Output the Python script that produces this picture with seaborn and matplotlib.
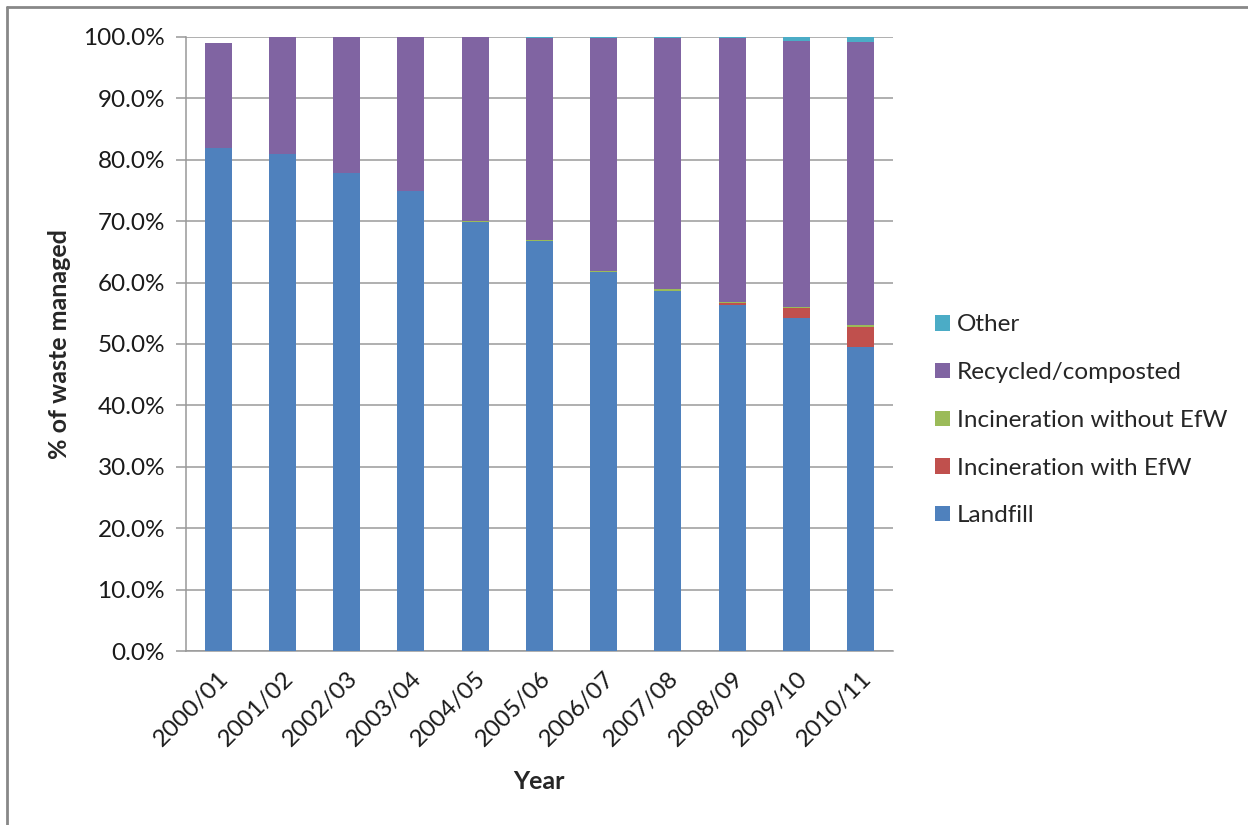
import matplotlib
matplotlib.use("Agg")
import matplotlib.pyplot as plt
from matplotlib.patches import Patch
from matplotlib.lines import Line2D
import seaborn as sns
import pandas as pd
import numpy as np

years = ["2000/01", "2001/02", "2002/03", "2003/04", "2004/05", "2005/06",
         "2006/07", "2007/08", "2008/09", "2009/10", "2010/11"]
landfill = [81.9, 80.9, 77.9, 74.9, 69.9, 66.8, 61.8, 58.7, 56.3, 54.3, 49.5]
incin_efw = [0.0, 0.0, 0.0, 0.0, 0.0, 0.0, 0.0, 0.0, 0.3, 1.5, 3.3]
incin_no_efw = [0.0, 0.0, 0.0, 0.0, 0.2, 0.2, 0.1, 0.2, 0.2, 0.3, 0.3]
recycled = [17.1, 19.1, 22.1, 25.1, 29.9, 32.8, 37.9, 40.9, 43.0, 43.3, 46.1]
other = [0.0, 0.0, 0.0, 0.0, 0.0, 0.2, 0.2, 0.2, 0.2, 0.6, 0.8]

series_names = ["Landfill", "Incineration with EfW", "Incineration without EfW",
                "Recycled/composted", "Other"]
series_values = [landfill, incin_efw, incin_no_efw, recycled, other]
colors = ["#4F81BD", "#C0504D", "#9BBB59", "#8064A2", "#4BACC6"]

sns.set_theme(style="white")
plt.rcParams["font.family"] = ["Lato", "DejaVu Sans"]

fig = plt.figure(figsize=(12.48, 8.25), dpi=100)
ax = fig.add_axes([0.149, 0.2109, 0.5665, 0.7443])

df = pd.DataFrame({"Year": years})
for name, vals in zip(series_names, series_values):
    df[name] = vals
# cumulative totals, drawn from the top layer down so each covers the one below
cum = df[series_names].cumsum(axis=1)
for name, col in reversed(list(zip(series_names, colors))):
    sns.barplot(x=df["Year"], y=cum[name], color=col, width=0.42,
                saturation=1, ax=ax, zorder=3, linewidth=0)

ax.set_ylim(0, 100)
ax.set_xlim(-0.5, len(years) - 0.5)
ax.set_yticks(np.arange(0, 101, 10))
ax.set_yticklabels([f"{v:.1f}%" for v in np.arange(0, 101, 10)], fontsize=17.5, color="#1a1a1a")
ax.yaxis.grid(True, color="#9a9a9a", linewidth=1.1, zorder=0)
ax.xaxis.grid(False)
ax.set_axisbelow(True)

ax.set_xticks(range(len(years)))
ax.set_xticklabels(years, rotation=45, ha="right", rotation_mode="anchor",
                   fontsize=17.5, color="#1a1a1a")
ax.set_xticks(np.arange(-0.5, len(years), 1.0), minor=True)
ax.tick_params(axis="x", which="major", length=0, pad=12)
ax.tick_params(axis="x", which="minor", length=7, color="#999999", width=1.1, direction="out")
ax.tick_params(axis="y", which="major", length=7, color="#999999", width=1.1, direction="out", left=True, pad=8)

for s in ["top", "right"]:
    ax.spines[s].set_visible(False)
for s in ["left", "bottom"]:
    ax.spines[s].set_color("#999999")
    ax.spines[s].set_linewidth(1.1)

ax.set_xlabel("Year", fontsize=18, fontweight="bold", labelpad=14)
ax.set_ylabel("% of waste managed", fontsize=18, fontweight="bold", labelpad=9)

handles = [Patch(facecolor=c, edgecolor="none", label=n)
           for n, c in zip(series_names, colors)][::-1]
fig.legend(handles=handles, loc="center left", bbox_to_anchor=(0.7317, 0.4905),
           frameon=False, fontsize=17.5, handlelength=0.6, handleheight=0.6,
           handletextpad=0.3, labelspacing=1.1)

# outer chart border (left and top edges visible)
fig.add_artist(Line2D([0.0057, 0.0057], [0, 0.9915], transform=fig.transFigure,
                      color="#888888", linewidth=2))
fig.add_artist(Line2D([0.0057, 1.0], [0.9915, 0.9915], transform=fig.transFigure,
                      color="#888888", linewidth=2))

fig.savefig("out.png", dpi=100, facecolor="white")
